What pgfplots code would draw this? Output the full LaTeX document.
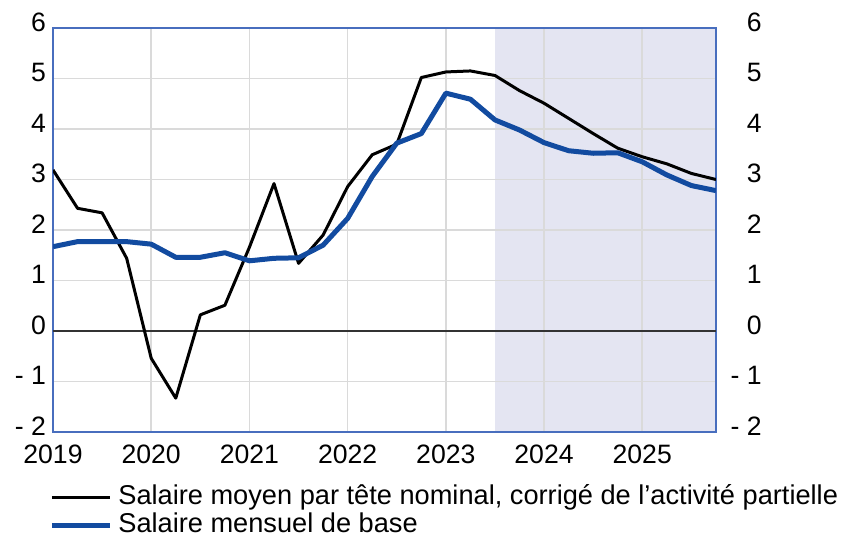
\documentclass[border=0pt]{standalone}
\usepackage{pgfplots}
\pgfplotsset{compat=1.18}
\usepackage{pgfplotstable}
\usepackage{fontspec}
\setmainfont{Liberation Sans}

\definecolor{salblue}{RGB}{18,75,160}
\definecolor{framecol}{RGB}{72,110,190}
\definecolor{shade}{RGB}{228,229,242}
\definecolor{gridcol}{RGB}{218,218,218}

% moyen par tete (corrige activite partielle)
\pgfplotstableread{
x y
2019.00 3.19
2019.25 2.43
2019.50 2.34
2019.75 1.44
2020.00 -0.54
2020.25 -1.33
2020.50 0.32
2020.75 0.51
2021.00 1.66
2021.25 2.92
2021.50 1.34
2021.75 1.90
2022.00 2.86
2022.25 3.49
2022.50 3.70
2022.75 5.02
2023.00 5.13
2023.25 5.15
2023.50 5.06
2023.75 4.76
2024.00 4.51
2024.25 4.21
2024.50 3.91
2024.75 3.62
2025.00 3.45
2025.25 3.31
2025.50 3.12
2025.75 3.00
}\smpt

% salaire mensuel de base
\pgfplotstableread{
x y
2019.00 1.67
2019.25 1.77
2019.50 1.77
2019.75 1.77
2020.00 1.72
2020.25 1.46
2020.50 1.46
2020.75 1.55
2021.00 1.39
2021.25 1.44
2021.50 1.45
2021.75 1.70
2022.00 2.23
2022.25 3.06
2022.50 3.72
2022.75 3.91
2023.00 4.71
2023.25 4.59
2023.50 4.18
2023.75 3.98
2024.00 3.73
2024.25 3.57
2024.50 3.52
2024.75 3.53
2025.00 3.35
2025.25 3.09
2025.50 2.88
2025.75 2.78
}\smb

\begin{document}
\begin{tikzpicture}[font=\fontsize{13.3}{15}\selectfont]
\pgfplotsset{every axis/.append style={
    scale only axis, width=331.5pt, height=202pt,
    xmin=2019, xmax=2025.75, ymin=-2, ymax=6,
    ytick={-2,...,6}, yticklabels={{- 2},{- 1},0,1,2,3,4,5,6},
    tick style={draw=none},
}}
\begin{axis}[
    set layers,
    xtick={2019,...,2025},
    xticklabels={2019,2020,2021,2022,2023,2024,2025},
    xticklabel style={yshift=-3pt},
    yticklabel style={yshift=3pt},
    grid=major, grid style={draw=gridcol, line width=0.8pt},
    axis line style={draw=framecol, line width=0.8pt},
    legend style={at={(0,0)}, anchor=north west, yshift=-26.5pt, xshift=-2pt,
        draw=none, fill=none, inner sep=0pt, row sep=2pt,
        font=\fontsize{13.6}{15}\selectfont,
        nodes={inner xsep=3pt, inner ysep=0pt, text height=9.5pt, text depth=2.5pt}},
    legend cell align=left,
    legend image code/.code={\draw[#1] (0pt,0pt) -- (29pt,0pt);},
]
\addplot[on layer=axis background, fill=shade, draw=none, forget plot]
    coordinates {(2023.5,-2) (2023.5,6) (2025.75,6) (2025.75,-2)} -- cycle;
\addplot[black!80, line width=1pt, forget plot] coordinates {(2019,0) (2025.75,0)};
\addplot[black, line width=1.5pt, line join=round] table {\smpt};
\addplot[salblue, line width=2.5pt, line join=round] table {\smb};
\legend{{Salaire moyen par tête nominal, corrigé de l’activité partielle}, {Salaire mensuel de base}}
\end{axis}
\begin{axis}[
    axis x line=none, axis y line*=right,
    y axis line style={draw=none},
    yticklabel style={anchor=east, xshift=26.4pt, yshift=3pt},
]
\addplot[draw=none] coordinates {(2019,0) (2025.75,0)};
\end{axis}
\pgfresetboundingbox
\useasboundingbox (-26.5pt,-52.5pt) rectangle (395.5pt,216pt);
\end{tikzpicture}
\end{document}
